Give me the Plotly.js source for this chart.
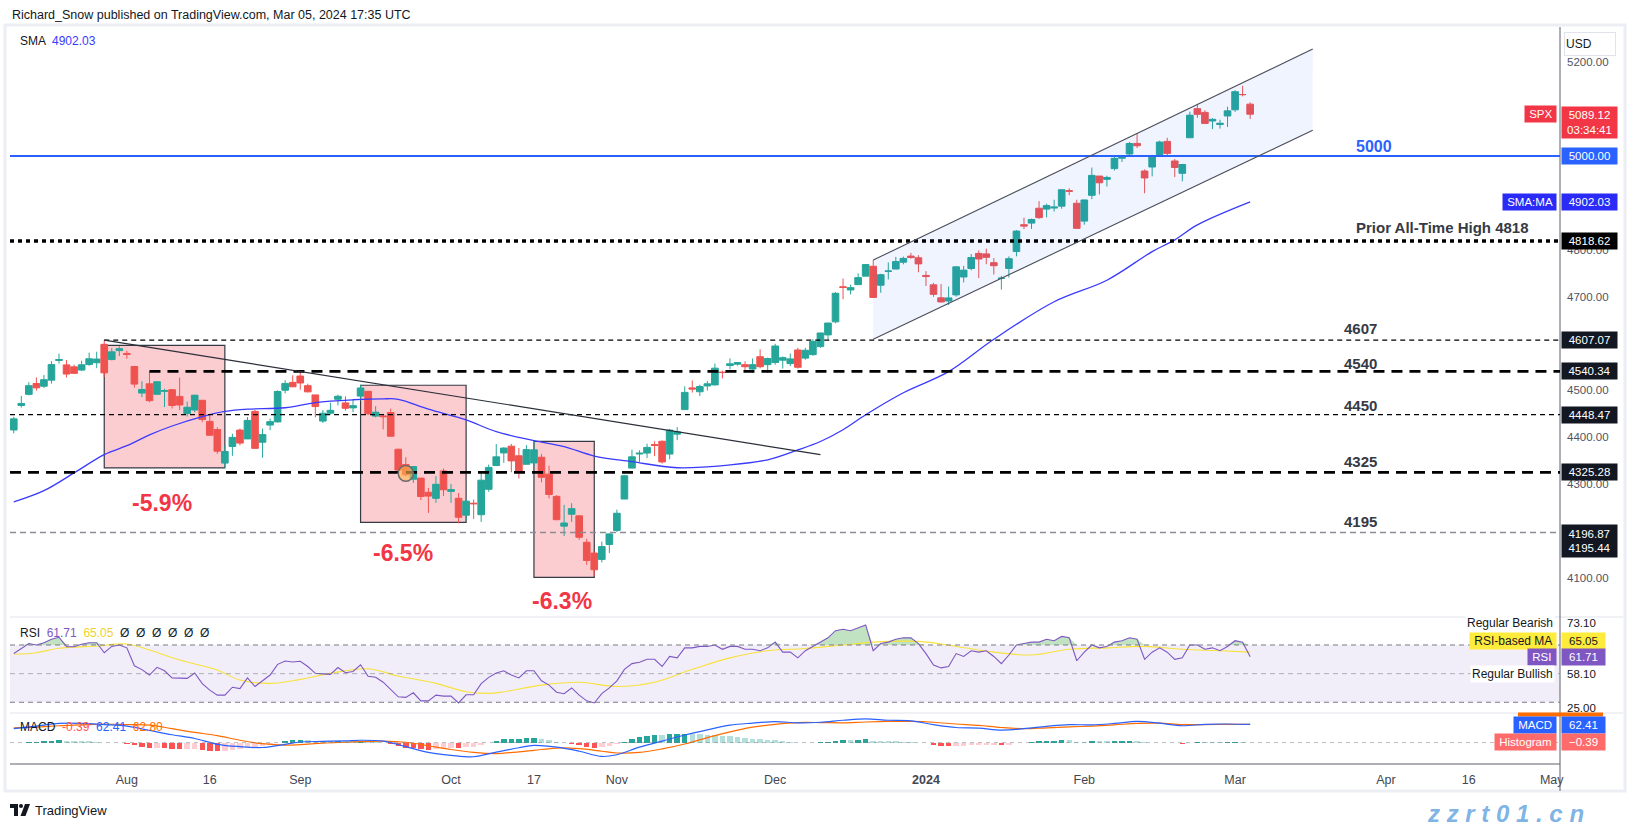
<!DOCTYPE html>
<html><head><meta charset="utf-8">
<script src="https://cdn.plot.ly/plotly-3.0.1.min.js"></script>
<style>html,body{margin:0;padding:0;background:#fff;}#chart{width:1634px;height:827px;}</style>
</head><body><div id="chart"></div>
<script>
// ---------------- DATA ----------------
const dates = [
'2023-07-11','2023-07-12','2023-07-13','2023-07-14','2023-07-17','2023-07-18','2023-07-19','2023-07-20','2023-07-21','2023-07-24','2023-07-25','2023-07-26','2023-07-27','2023-07-28','2023-07-31',
'2023-08-01','2023-08-02','2023-08-03','2023-08-04','2023-08-07','2023-08-08','2023-08-09','2023-08-10','2023-08-11','2023-08-14','2023-08-15','2023-08-16','2023-08-17','2023-08-18','2023-08-21','2023-08-22','2023-08-23','2023-08-24','2023-08-25','2023-08-28','2023-08-29','2023-08-30','2023-08-31',
'2023-09-01','2023-09-05','2023-09-06','2023-09-07','2023-09-08','2023-09-11','2023-09-12','2023-09-13','2023-09-14','2023-09-15','2023-09-18','2023-09-19','2023-09-20','2023-09-21','2023-09-22','2023-09-25','2023-09-26','2023-09-27','2023-09-28','2023-09-29',
'2023-10-02','2023-10-03','2023-10-04','2023-10-05','2023-10-06','2023-10-09','2023-10-10','2023-10-11','2023-10-12','2023-10-13','2023-10-16','2023-10-17','2023-10-18','2023-10-19','2023-10-20','2023-10-23','2023-10-24','2023-10-25','2023-10-26','2023-10-27','2023-10-30','2023-10-31',
'2023-11-01','2023-11-02','2023-11-03','2023-11-06','2023-11-07','2023-11-08','2023-11-09','2023-11-10','2023-11-13','2023-11-14','2023-11-15','2023-11-16','2023-11-17','2023-11-20','2023-11-21','2023-11-22','2023-11-24','2023-11-27','2023-11-28','2023-11-29','2023-11-30',
'2023-12-01','2023-12-04','2023-12-05','2023-12-06','2023-12-07','2023-12-08','2023-12-11','2023-12-12','2023-12-13','2023-12-14','2023-12-15','2023-12-18','2023-12-19','2023-12-20','2023-12-21','2023-12-22','2023-12-26','2023-12-27','2023-12-28','2023-12-29',
'2024-01-02','2024-01-03','2024-01-04','2024-01-05','2024-01-08','2024-01-09','2024-01-10','2024-01-11','2024-01-12','2024-01-16','2024-01-17','2024-01-18','2024-01-19','2024-01-22','2024-01-23','2024-01-24','2024-01-25','2024-01-26','2024-01-29','2024-01-30','2024-01-31',
'2024-02-01','2024-02-02','2024-02-05','2024-02-06','2024-02-07','2024-02-08','2024-02-09','2024-02-12','2024-02-13','2024-02-14','2024-02-15','2024-02-16','2024-02-20','2024-02-21','2024-02-22','2024-02-23','2024-02-26','2024-02-27','2024-02-28','2024-02-29',
'2024-03-01','2024-03-04','2024-03-05'];

const openVals = [
4415.55,4467.69,4491.50,4514.61,4508.86,4521.78,4563.87,4554.38,4550.16,4543.39,4555.19,4558.96,4598.26,4565.75,4584.82,
4578.83,4550.93,4494.27,4513.96,4491.58,4498.03,4501.57,4487.16,4450.69,4458.13,4478.87,4433.79,4416.32,4344.88,4380.28,4415.33,4396.44,4455.16,4389.38,4426.03,4432.75,4500.34,4517.01,
4530.60,4510.06,4490.35,4434.55,4451.30,4480.98,4473.27,4462.65,4487.78,4497.98,4445.13,4445.41,4452.81,4374.36,4341.74,4310.62,4312.88,4282.63,4269.65,4328.18,
4284.52,4269.75,4233.83,4259.31,4234.79,4289.02,4339.75,4366.59,4380.94,4360.49,4342.37,4345.23,4357.35,4321.36,4273.85,4210.40,4235.79,4232.42,4175.99,4152.93,4139.39,4171.33,
4201.27,4268.26,4334.23,4364.27,4366.21,4384.37,4391.41,4364.15,4406.66,4458.97,4505.30,4497.08,4509.55,4511.70,4538.77,4553.04,4555.84,4554.86,4545.55,4571.84,4554.87,
4559.43,4564.37,4557.25,4586.23,4568.84,4576.20,4593.39,4618.30,4646.20,4721.04,4714.23,4725.58,4743.72,4764.73,4724.29,4753.92,4758.86,4773.45,4786.44,4782.88,
4745.20,4725.07,4697.42,4690.57,4703.70,4741.93,4759.94,4792.13,4791.18,4772.35,4739.13,4760.10,4796.28,4853.42,4856.80,4888.56,4886.66,4888.91,4892.95,4925.89,4899.19,
4861.11,4916.06,4957.19,4950.16,4973.05,4995.16,5004.17,5026.83,4967.94,4976.44,5003.14,5031.13,4989.32,4963.03,5038.83,5100.92,5093.00,5074.60,5067.20,5085.36,
5098.51,5130.99,5110.52];

const highVals = [
4443.64,4488.34,4517.38,4527.76,4532.85,4562.30,4578.43,4564.74,4555.00,4563.41,4580.62,4582.47,4607.07,4590.16,4594.22,
4584.62,4550.93,4519.49,4540.34,4519.84,4503.31,4502.44,4527.37,4476.23,4490.33,4478.87,4449.95,4421.17,4381.82,4407.55,4418.59,4443.18,4458.30,4418.46,4439.56,4500.14,4521.65,4532.26,
4541.25,4514.29,4490.35,4457.81,4473.53,4490.77,4487.11,4479.39,4511.99,4497.98,4466.36,4449.85,4461.03,4375.70,4357.40,4338.51,4313.01,4292.07,4317.27,4333.15,
4300.58,4281.15,4268.50,4267.13,4324.10,4341.73,4385.46,4378.64,4385.85,4377.10,4383.33,4393.57,4364.20,4339.54,4276.56,4255.84,4259.38,4232.42,4183.60,4156.70,4177.47,4195.55,
4245.64,4319.72,4373.62,4372.21,4386.26,4391.20,4393.40,4418.03,4421.76,4508.67,4521.17,4511.99,4520.12,4557.11,4542.14,4568.43,4560.31,4562.06,4568.14,4587.64,4569.89,
4599.39,4572.37,4578.56,4590.74,4590.92,4609.23,4623.07,4643.93,4709.69,4738.57,4725.53,4749.52,4768.69,4778.01,4748.71,4772.94,4784.72,4785.39,4793.30,4788.43,
4754.33,4729.29,4726.78,4721.49,4764.54,4765.47,4790.80,4798.50,4802.40,4782.34,4744.23,4785.79,4842.07,4868.41,4866.48,4903.68,4898.15,4906.69,4929.31,4931.09,4906.75,
4906.97,4975.29,4957.19,4957.77,4999.89,5000.40,5030.06,5048.39,4971.30,5002.52,5032.72,5038.70,4993.71,4983.21,5094.39,5111.06,5097.66,5080.69,5077.37,5104.99,
5140.33,5149.67,5114.54];

const lowVals = [
4408.46,4463.23,4489.36,4499.56,4504.90,4514.59,4557.48,4527.56,4535.79,4541.29,4552.42,4547.58,4528.56,4564.01,4573.14,
4567.53,4505.75,4485.54,4474.55,4491.15,4464.39,4461.33,4457.92,4443.98,4453.44,4432.19,4403.55,4364.83,4335.31,4360.30,4382.77,4396.44,4375.55,4356.29,4414.98,4431.68,4493.59,4507.39,
4501.35,4496.01,4442.38,4430.46,4448.38,4467.89,4456.83,4453.52,4478.69,4447.21,4442.11,4416.61,4401.38,4329.17,4316.49,4302.70,4265.98,4238.63,4260.21,4274.86,
4260.21,4216.45,4220.48,4225.91,4219.55,4283.79,4339.64,4345.34,4325.43,4311.97,4342.37,4337.54,4303.84,4269.69,4223.03,4189.22,4219.43,4181.42,4127.90,4103.78,4132.94,4153.12,
4197.74,4268.26,4334.23,4347.53,4355.41,4359.76,4343.94,4353.34,4393.82,4458.97,4495.31,4487.83,4499.66,4510.36,4525.51,4545.05,4552.80,4540.51,4537.26,4547.15,4537.24,
4554.71,4546.72,4551.68,4546.50,4565.22,4574.06,4590.74,4608.09,4643.23,4694.34,4704.69,4725.58,4743.72,4697.82,4708.35,4736.77,4758.45,4768.90,4780.98,4751.99,
4722.67,4699.71,4687.53,4682.11,4699.82,4730.35,4756.20,4739.58,4768.98,4747.12,4714.82,4740.57,4785.87,4844.05,4844.37,4865.94,4869.34,4881.47,4887.40,4916.27,4845.15,
4853.52,4907.99,4918.09,4934.88,4969.05,4987.09,5000.34,5016.83,4920.31,4956.45,4999.44,4999.52,4955.02,4946.00,5038.83,5081.46,5068.91,5057.29,5058.35,5061.89,
5094.16,5127.18,5079.00];

const closeVals = [
4439.26,4472.16,4510.04,4505.42,4522.79,4554.98,4565.72,4534.87,4536.34,4554.64,4567.46,4566.75,4537.41,4582.23,4588.96,
4576.73,4513.39,4501.89,4478.03,4518.44,4499.38,4467.71,4468.83,4464.05,4489.72,4437.86,4404.33,4370.36,4369.71,4399.77,4387.55,4436.01,4376.31,4405.71,4433.31,4497.63,4514.87,4507.66,
4515.77,4496.83,4465.48,4451.14,4457.49,4487.46,4461.90,4467.44,4505.10,4450.32,4453.53,4443.95,4402.20,4330.00,4320.06,4337.44,4273.53,4274.51,4299.70,4288.05,
4288.39,4229.45,4263.75,4258.19,4308.50,4335.66,4358.24,4376.95,4349.61,4327.78,4373.63,4373.20,4314.60,4278.00,4224.16,4217.04,4247.68,4186.77,4137.23,4117.37,4166.82,4193.80,
4237.86,4317.78,4358.34,4365.98,4378.38,4382.78,4347.35,4415.24,4411.55,4495.70,4502.88,4508.24,4514.02,4547.38,4538.19,4556.62,4559.34,4550.43,4554.89,4550.58,4567.80,
4594.63,4569.78,4567.18,4549.34,4585.59,4604.37,4622.44,4643.70,4707.09,4719.55,4719.19,4740.56,4768.37,4698.35,4746.75,4754.63,4774.75,4781.58,4783.35,4769.83,
4742.83,4704.81,4688.68,4697.24,4763.54,4756.50,4783.45,4780.24,4783.83,4765.98,4739.21,4780.94,4839.81,4850.43,4864.60,4868.55,4894.16,4890.97,4927.93,4924.97,4845.65,
4906.19,4958.61,4942.81,4954.23,4995.06,4997.91,5026.61,5021.84,4953.17,5000.62,5029.73,5005.57,4975.51,4981.80,5087.03,5088.80,5069.53,5078.18,5069.76,5096.27,
5137.08,5130.95,5089.12];

// 50-day SMA
const smaDates = ['2023-07-11','2023-07-17','2023-07-21','2023-07-27','2023-08-01','2023-08-04','2023-08-09','2023-08-15','2023-08-18','2023-08-23','2023-08-30','2023-09-06','2023-09-13','2023-09-19','2023-09-21','2023-09-27','2023-10-04','2023-10-10','2023-10-17','2023-10-23','2023-10-27','2023-11-03','2023-11-13','2023-11-22','2023-11-30','2023-12-06','2023-12-11','2023-12-14','2023-12-19','2023-12-27','2024-01-05','2024-01-16','2024-01-26','2024-02-06','2024-02-14','2024-02-20','2024-02-23','2024-03-05'];
const smaVals = [4262,4286,4324,4363,4382,4405,4424,4444,4455,4460,4463,4474,4480,4482,4481,4460,4437,4412,4393,4380,4360,4348,4335,4341,4352,4373,4391,4416,4448,4495,4540,4609,4689,4735,4796,4821,4853,4902.03];

// RSI (daily, aligned with dates)
const rsiVals = [
64,67.5,71,70,71.6,74,75.4,68.8,68.8,70.5,71.6,71.6,64.6,69,70,
68,55.5,52.8,49,54.4,52,47,46.7,46.7,50.4,43,38.5,35,35,40.5,39.5,47,41,45,49,56.5,58.8,58.1,
58.6,55,50.2,49.8,49.5,54.3,50.6,51.5,56.2,48.2,47.5,44,39,33.8,33.4,36.6,31,31,35,34.3,
34.3,29.5,35.2,35.2,43,47.4,50.5,52,49,47,52,52,45,42,37,36,40,35,31,29.5,36,40,
45,53,57,58,60,60,55,62,61,68,68,69,69,70,67,69,69,67,67,66,68,
72,65,65,61,66,69,72,75,80,81,80,82,84,66,71,72,74,75,75,71,
64,56,54,55,64,62,66,65,66,62,57,63,70,71,72,72,74,73,76,75,59,
65,70,68,69,72,73,75,74,60,65,68,65,60,61,70,70,67,68,66,69,
73,72,61.71];

// RSI-based MA (sampled)
const rsiMaDates = ['2023-07-11','2023-07-14','2023-07-19','2023-07-26','2023-08-01','2023-08-04','2023-08-10','2023-08-17','2023-08-22','2023-08-28','2023-09-01','2023-09-08','2023-09-15','2023-09-21','2023-09-28','2023-10-04','2023-10-09','2023-10-11','2023-10-18','2023-10-25','2023-11-01','2023-11-08','2023-11-15','2023-11-22','2023-11-30','2023-12-07','2023-12-14','2023-12-20','2023-12-29','2024-01-08','2024-01-16','2024-01-23','2024-01-30','2024-02-06','2024-02-13','2024-02-21','2024-02-28','2024-03-05'];
const rsiMaVals = [63.5,64.6,67.7,69.3,70.7,66.5,59.5,52.5,45.5,43.2,46,50.2,53.4,48.3,43.2,37.3,36.2,37.3,42,44,41,44,53,61,66,67.5,70,72,72.5,69,65,63,67,68,69,67,66,65.05];

// MACD / signal (sampled)
const macdDates = ['2023-07-11','2023-07-14','2023-07-19','2023-07-24','2023-07-27','2023-08-01','2023-08-04','2023-08-09','2023-08-14','2023-08-17','2023-08-22','2023-08-25','2023-08-30','2023-09-01','2023-09-07','2023-09-12','2023-09-14','2023-09-19','2023-09-22','2023-09-27','2023-10-02','2023-10-05','2023-10-10','2023-10-13','2023-10-17','2023-10-20','2023-10-25','2023-10-30','2023-11-01','2023-11-06','2023-11-09','2023-11-14','2023-11-17','2023-11-22','2023-11-28','2023-12-01','2023-12-06','2023-12-11','2023-12-14','2023-12-19','2023-12-22','2023-12-28','2024-01-03','2024-01-08','2024-01-11','2024-01-17','2024-01-22','2024-01-25','2024-01-30','2024-02-02','2024-02-07','2024-02-12','2024-02-15','2024-02-21','2024-02-26','2024-02-29','2024-03-05'];
const macdVals = [48,57,66,66,62,57,42,27,14,-6,-14,-17,-6,2,4,6,8,5,-14,-34,-44,-49,-33,-18,-10,-16,-30,-48,-42,-16,5,26,44,60,67,72,68,70,77,82,77,75,62,52,50,43,48,56,62,61,66,73,67,58,63,64,62.41];
const signalVals = [51,53,58,61,64,62,60,48,35,24,8,-4,-9,-7,-2,1,3,5,1,-11,-24,-34,-38,-32,-27,-19,-21,-30,-36,-34,-22,-5,17,37,53,63,69,69,68,71,73,73,70,64,59,52,48,51,54,57,61,66,67,62,62,63,62.80];

// MACD histogram (daily, aligned with dates)
const histVals = [
-3,-2,1,3,5,7,8,7,6,5,4,2,-2,-2,-3,
-5,-10,-14,-18,-18,-19,-21,-22,-22,-21,-24,-28,-30,-28,-24,-22,-17,-16,-13,-8,-2,4,8,
9,8,6,5,5,6,5,5,6,3,1,-1,-6,-13,-18,-19,-22,-24,-22,-21,
-19,-20,-17,-15,-8,-1,6,11,13,14,16,17,13,8,2,-3,-5,-9,-14,-18,-17,-13,
-6,3,12,18,22,25,25,28,30,31,30,28,27,27,24,22,20,17,14,11,9,
9,5,2,-1,-2,-1,1,3,7,9,9,10,11,6,5,4,4,3,2,0,
-3,-7,-11,-13,-12,-12,-10,-9,-8,-8,-9,-7,-3,0,2,4,5,6,8,8,3,
2,4,4,4,5,6,7,7,2,0,0,-1,-3,-4,-1,1,1,1,0.5,1,
2,2,-0.39];

const holidays = ['2023-09-04','2023-11-23','2023-12-25','2024-01-01','2024-01-15','2024-02-19','2024-03-29'];
const tickDates = ['2023-08-01','2023-08-16','2023-09-01','2023-10-02','2023-10-17','2023-11-01','2023-12-01','2024-01-02','2024-02-01','2024-03-01','2024-04-01','2024-04-16','2024-05-01'];
const tickLabels = ['Aug','16','Sep','Oct','17','Nov','Dec','<b>2024</b>','Feb','Mar','Apr','16','May'];
// price-scale labels left visible (the others sit under the level tags)
const priceTicks = [4100,4300,4400,4500,4700,4800,5200];

// Levels & drawings
const lvl5000 = 5000.00, lvlATH = 4818.62, lvl4607 = 4607.07, lvl4540 = 4540.34, lvl4448 = 4448.47, lvl4325 = 4325.28, lvl4196 = 4196.87, lvl4195 = 4195.44;
const lastPrice = 5089.12, smaLast = 4902.03, rsiLast = 61.71, rsiMaLast = 65.05, macdLast = 62.41, signalLast = 62.80, histLast = -0.39;
const boxes = [
  {x0:'2023-07-27', x1:'2023-08-18', y0:4334.5, y1:4596, label:'-5.9%', lx:'2023-08-07 17:00', ly:4260},
  {x0:'2023-09-14', x1:'2023-10-04', y0:4218.6, y1:4511, label:'-6.5%', lx:'2023-09-21 14:00', ly:4153},
  {x0:'2023-10-17', x1:'2023-10-27', y0:4101.3, y1:4391.4, label:'-6.3%', lx:'2023-10-20 17:00', ly:4051}
];
const trendLine = {x0:'2023-07-27', y0:4607.07, x1:'2023-12-11', y1:4363};
const channel = {x0:'2023-12-20', x1:'2024-03-15 07:12', up0:4778, up1:5228, lo0:4609, lo1:5055};
const xRange = ['2023-07-10 12:00','2024-05-02 02:24'];

// ---------------- LAYOUT HELPERS ----------------
const W = 1634, H = 827, ML = 10, MR = 74, MT = 28, MB = 63;
const PW = W - ML - MR, PH = H - MT - MB;
const px = X => (X - ML) / PW;
const py = Y => (H - MB - Y) / PH;
const dMain = [py(617), 1], dRsi = [py(713), py(617)], dMacd = [0, py(713)];
const FONT = 'Liberation Sans, Arial, sans-serif';

// ---------------- TRACES ----------------
const traces = [];
traces.push({type:'scatter', mode:'lines', x:[channel.x0, channel.x1, channel.x1, channel.x0], y:[channel.up0, channel.up1, channel.lo1, channel.lo0],
  fill:'toself', fillcolor:'rgba(41,98,255,0.07)', line:{width:0}, hoverinfo:'skip', showlegend:false, xaxis:'x', yaxis:'y'});
traces.push({type:'candlestick', x:dates, open:openVals, high:highVals, low:lowVals, close:closeVals, xaxis:'x', yaxis:'y',
  increasing:{line:{color:'#26a69a', width:1}, fillcolor:'#26a69a'},
  decreasing:{line:{color:'#ef5350', width:1}, fillcolor:'#ef5350'},
  whiskerwidth:0, hoverinfo:'skip', showlegend:false});
traces.push({type:'scatter', mode:'lines', x:smaDates, y:smaVals, line:{color:'#3a3aff', width:1.3, shape:'spline'}, hoverinfo:'skip', showlegend:false, xaxis:'x', yaxis:'y'});

// RSI overbought / oversold fills
traces.push({type:'scatter', mode:'lines', x:dates, y:dates.map(()=>70), line:{width:0}, hoverinfo:'skip', showlegend:false, xaxis:'x', yaxis:'y2'});
traces.push({type:'scatter', mode:'lines', x:dates, y:rsiVals.map(v=>Math.max(v,70)), line:{width:0}, fill:'tonexty', fillcolor:'rgba(76,175,80,0.35)', hoverinfo:'skip', showlegend:false, xaxis:'x', yaxis:'y2'});
traces.push({type:'scatter', mode:'lines', x:dates, y:dates.map(()=>30), line:{width:0}, hoverinfo:'skip', showlegend:false, xaxis:'x', yaxis:'y2'});
traces.push({type:'scatter', mode:'lines', x:dates, y:rsiVals.map(v=>Math.min(v,30)), line:{width:0}, fill:'tonexty', fillcolor:'rgba(242,54,69,0.3)', hoverinfo:'skip', showlegend:false, xaxis:'x', yaxis:'y2'});
traces.push({type:'scatter', mode:'lines', x:rsiMaDates, y:rsiMaVals, line:{color:'#f7e23b', width:1.1, shape:'spline'}, hoverinfo:'skip', showlegend:false, xaxis:'x', yaxis:'y2'});
traces.push({type:'scatter', mode:'lines', x:dates, y:rsiVals, line:{color:'#7e57c2', width:1.1}, hoverinfo:'skip', showlegend:false, xaxis:'x', yaxis:'y2'});

// MACD
const histColors = histVals.map((v,i)=>{const p = i>0 ? histVals[i-1] : v; return v>=0 ? (v>p?'#26a69a':'#b2dfdb') : (v<p?'#ff5252':'#ffcdd2');});
traces.push({type:'bar', x:dates, y:histVals, marker:{color:histColors, line:{width:0}}, width:0.72*86400000, hoverinfo:'skip', showlegend:false, xaxis:'x', yaxis:'y3'});
traces.push({type:'scatter', mode:'lines', x:macdDates, y:signalVals, line:{color:'#ff6d00', width:1.2, shape:'spline'}, hoverinfo:'skip', showlegend:false, xaxis:'x', yaxis:'y3'});
traces.push({type:'scatter', mode:'lines', x:macdDates, y:macdVals, line:{color:'#2962ff', width:1.2, shape:'spline'}, hoverinfo:'skip', showlegend:false, xaxis:'x', yaxis:'y3'});

// ---------------- SHAPES ----------------
const shapes = [];
shapes.push({type:'rect', xref:'paper', yref:'paper', x0:px(5), x1:px(1625), y0:py(791), y1:py(25), line:{color:'#eceef3', width:3}, fillcolor:'rgba(0,0,0,0)'});
[617, 713].forEach(Y=>shapes.push({type:'line', xref:'paper', yref:'paper', x0:px(10), x1:px(1623), y0:py(Y), y1:py(Y), line:{color:'#e0e3eb', width:1}}));
shapes.push({type:'line', xref:'paper', yref:'paper', x0:1, x1:1, y0:py(791), y1:py(27), line:{color:'#5d606b', width:1}});
shapes.push({type:'line', xref:'paper', yref:'paper', x0:0, x1:1, y0:0, y1:0, line:{color:'#5d606b', width:1}});
shapes.push({type:'rect', xref:'paper', yref:'y2', x0:0, x1:1, y0:30, y1:70, fillcolor:'rgba(126,87,194,0.1)', line:{width:0}, layer:'below'});
shapes.push({type:'line', xref:'paper', yref:'y2', x0:0, x1:1, y0:70, y1:70, line:{color:'#787b86', width:1, dash:'5px,4px'}});
shapes.push({type:'line', xref:'paper', yref:'y2', x0:0, x1:1, y0:50, y1:50, line:{color:'rgba(120,123,134,0.55)', width:1, dash:'5px,4px'}});
shapes.push({type:'line', xref:'paper', yref:'y2', x0:0, x1:1, y0:30, y1:30, line:{color:'#787b86', width:1, dash:'5px,4px'}});
shapes.push({type:'line', xref:'paper', yref:'y3', x0:0, x1:1, y0:0, y1:0, line:{color:'rgba(120,123,134,0.5)', width:1, dash:'4px,4px'}});
boxes.forEach(b=>shapes.push({type:'rect', xref:'x', yref:'y', x0:b.x0, x1:b.x1, y0:b.y0, y1:b.y1, fillcolor:'rgba(242,54,69,0.25)', line:{color:'#363a45', width:1.2}, layer:'below'}));
shapes.push({type:'line', xref:'paper', yref:'y', x0:0, x1:1, y0:lvl5000, y1:lvl5000, line:{color:'#2962ff', width:2}});
shapes.push({type:'line', xref:'paper', yref:'y', x0:0, x1:1, y0:lvlATH, y1:lvlATH, line:{color:'#000000', width:3.5, dash:'4px,4px'}});
shapes.push({type:'line', xref:'x', yref:'y', x0:'2023-07-27', x1:xRange[1], y0:lvl4607, y1:lvl4607, line:{color:'#000000', width:1.2, dash:'5px,4px'}});
shapes.push({type:'line', xref:'x', yref:'y', x0:'2023-08-04', x1:xRange[1], y0:lvl4540, y1:lvl4540, line:{color:'#000000', width:2.8, dash:'11px,7px'}});
shapes.push({type:'line', xref:'paper', yref:'y', x0:0, x1:1, y0:lvl4448, y1:lvl4448, line:{color:'#000000', width:1.2, dash:'5px,4px'}});
shapes.push({type:'line', xref:'paper', yref:'y', x0:0, x1:1, y0:lvl4325, y1:lvl4325, line:{color:'#000000', width:2.8, dash:'11px,7px'}});
shapes.push({type:'line', xref:'paper', yref:'y', x0:0, x1:1, y0:lvl4196, y1:lvl4196, line:{color:'#8a8d96', width:1.6, dash:'6px,4px'}});
shapes.push({type:'line', xref:'x', yref:'y', x0:trendLine.x0, x1:trendLine.x1, y0:trendLine.y0, y1:trendLine.y1, line:{color:'#2a2e39', width:1.2}});
shapes.push({type:'line', xref:'x', yref:'y', x0:channel.x0, x1:channel.x1, y0:channel.up0, y1:channel.up1, line:{color:'#4a4e59', width:1.1}});
shapes.push({type:'line', xref:'x', yref:'y', x0:channel.x0, x1:channel.x1, y0:channel.lo0, y1:channel.lo1, line:{color:'#4a4e59', width:1.1}});
shapes.push({type:'circle', xref:'x', yref:'y', x0:'2023-09-21', x1:'2023-09-25', y0:4306, y1:4340, fillcolor:'rgba(255,183,77,0.6)', line:{color:'#6b6b6b', width:1.5}});
shapes.push({type:'path', xref:'paper', yref:'paper', path:`M${px(10)},${py(804)} L${px(18)},${py(804)} L${px(18)},${py(816)} L${px(14)},${py(816)} L${px(14)},${py(808)} L${px(10)},${py(808)} Z`, fillcolor:'#131722', line:{width:0}});
shapes.push({type:'circle', xref:'paper', yref:'paper', x0:px(19), x1:px(23), y0:py(808), y1:py(804), fillcolor:'#131722', line:{width:0}});
shapes.push({type:'path', xref:'paper', yref:'paper', path:`M${px(25)},${py(804)} L${px(30)},${py(804)} L${px(25.5)},${py(816)} L${px(20.5)},${py(816)} Z`, fillcolor:'#131722', line:{width:0}});

// ---------------- ANNOTATIONS ----------------
const ann = [];
const txt = (o) => ann.push(Object.assign({showarrow:false, xanchor:'left', yanchor:'middle', font:{family:FONT, size:12, color:'#131722'}}, o));
txt({xref:'paper', yref:'paper', x:px(10), y:py(15), text:'Richard_Snow published on TradingView.com, Mar 05, 2024 17:35 UTC', font:{family:FONT, size:12.5, color:'#131722'}});
txt({xref:'paper', yref:'paper', x:px(33), y:py(810), text:'TradingView', font:{family:FONT, size:13, color:'#131722'}});
txt({xref:'paper', yref:'paper', x:px(18), y:py(41), text:`SMA  <span style="color:#3a3aff">${smaLast.toFixed(2)}</span>`, font:{family:FONT, size:12, color:'#131722'}});
txt({xref:'paper', yref:'paper', x:px(18), y:py(633), text:`RSI  <span style="color:#7e57c2">${rsiLast.toFixed(2)}</span>  <span style="color:#f2d22b">${rsiMaLast.toFixed(2)}</span>  Ø  Ø  Ø  Ø  Ø  Ø`, font:{family:FONT, size:12, color:'#131722'}});
txt({xref:'paper', yref:'paper', x:px(18), y:py(727), text:`MACD  <span style="color:#ff5252">${histLast.toFixed(2)}</span>  <span style="color:#2962ff">${macdLast.toFixed(2)}</span>  <span style="color:#ff6d00">${signalLast.toFixed(2)}</span>`, font:{family:FONT, size:12, color:'#131722'}});

const lvlFont = (c, s) => ({family:FONT, size:s, color:c, weight:600});
txt({xref:'paper', yref:'y', x:px(1354), y:5021, text:'5000', font:lvlFont('#2962ff',16)});
txt({xref:'paper', yref:'y', x:px(1354), y:4848.5, text:'Prior All-Time High 4818', font:lvlFont('#363a45',15)});
txt({xref:'paper', yref:'y', x:px(1342), y:4633, text:'4607', font:lvlFont('#363a45',15)});
txt({xref:'paper', yref:'y', x:px(1342), y:4558, text:'4540', font:lvlFont('#363a45',15)});
txt({xref:'paper', yref:'y', x:px(1342), y:4467, text:'4450', font:lvlFont('#363a45',15)});
txt({xref:'paper', yref:'y', x:px(1342), y:4349, text:'4325', font:lvlFont('#363a45',15)});
txt({xref:'paper', yref:'y', x:px(1342), y:4221, text:'4195', font:lvlFont('#363a45',15)});
boxes.forEach(b=>txt({xref:'x', yref:'y', x:b.lx, y:b.ly, xanchor:'center', text:`<b>${b.label}</b>`, font:{family:FONT, size:23, color:'#f23645'}}));

const axBox = (o) => ann.push(Object.assign({showarrow:false, xref:'paper', xanchor:'left', yanchor:'middle', x:px(1561), align:'center', width:53, height:14, borderpad:1, font:{family:FONT, size:11.5, color:'#ffffff'}}, o));
const nameBox = (o) => ann.push(Object.assign({showarrow:false, xref:'paper', xanchor:'right', yanchor:'middle', x:px(1557), borderpad:1, font:{family:FONT, size:11.5, color:'#ffffff'}}, o));
txt({xref:'paper', yref:'paper', x:px(1564), y:py(44.5), text:'USD', width:48, height:20, align:'left', bordercolor:'#e0e3eb', borderwidth:1, bgcolor:'#ffffff', borderpad:1, font:{family:FONT, size:12, color:'#131722'}});
nameBox({yref:'y', y:lastPrice, text:' SPX ', height:14, bgcolor:'#f23645'});
axBox({yref:'y', y:lastPrice, yanchor:'top', yshift:8, height:29, text:`${lastPrice.toFixed(2)}<br>03:34:41`, bgcolor:'#f23645'});
axBox({yref:'y', y:lvl5000, text:lvl5000.toFixed(2), bgcolor:'#2962ff'});
nameBox({yref:'y', y:smaLast, text:' SMA:MA ', height:14, bgcolor:'#2b2bf8'});
axBox({yref:'y', y:smaLast, text:smaLast.toFixed(2), bgcolor:'#2b2bf8'});
axBox({yref:'y', y:lvlATH, text:lvlATH.toFixed(2), bgcolor:'#000000'});
[lvl4607, lvl4540, lvl4448, lvl4325].forEach(v=>axBox({yref:'y', y:v, text:v.toFixed(2), bgcolor:'#131722'}));
axBox({yref:'y', y:lvl4196, yanchor:'top', yshift:8, height:30, text:`${lvl4196.toFixed(2)}<br>${lvl4195.toFixed(2)}`, bgcolor:'#131722'});

const smallBox = (o) => ann.push(Object.assign({showarrow:false, xref:'paper', yref:'paper', xanchor:'left', yanchor:'middle', x:px(1561), align:'center', width:41, height:14, borderpad:1, font:{family:FONT, size:11.5, color:'#ffffff'}}, o));
nameBox({yref:'paper', y:py(622.7), x:px(1555), text:'Regular Bearish', bgcolor:'#ffffff', font:{family:FONT, size:12, color:'#131722'}});
txt({xref:'paper', yref:'paper', x:px(1565), y:py(622.7), text:'73.10', font:{family:FONT, size:11.5, color:'#131722'}});
nameBox({yref:'paper', y:py(641), text:' RSI-based MA ', height:14, bgcolor:'#ffeb3b', font:{family:FONT, size:12, color:'#131722'}});
smallBox({y:py(641), text:rsiMaLast.toFixed(2), bgcolor:'#ffeb3b', font:{family:FONT, size:11.5, color:'#131722'}});
nameBox({yref:'paper', y:py(657), text:' RSI ', height:14, bgcolor:'#7e57c2'});
smallBox({y:py(657), text:rsiLast.toFixed(2), bgcolor:'#7e57c2'});
nameBox({yref:'paper', y:py(674), x:px(1555), text:'Regular Bullish', bgcolor:'#ffffff', font:{family:FONT, size:12, color:'#131722'}});
txt({xref:'paper', yref:'paper', x:px(1565), y:py(674), text:'58.10', font:{family:FONT, size:11.5, color:'#131722'}});
txt({xref:'paper', yref:'paper', x:px(1565), y:py(707.7), text:'25.00', font:{family:FONT, size:11.5, color:'#131722'}});

// MACD pane labels (signal tags sit behind the MACD tags, only their top edge shows)
shapes.push({type:'rect', xref:'paper', yref:'paper', x0:px(1518), x1:px(1603), y0:py(716.5), y1:py(712.5), fillcolor:'#ff6d00', line:{width:0}});
nameBox({yref:'paper', y:py(724.5), text:' MACD ', height:14, bgcolor:'#2962ff'});
smallBox({y:py(724.5), text:macdLast.toFixed(2), bgcolor:'#2962ff'});
nameBox({yref:'paper', y:py(742), text:' Histogram ', height:14, bgcolor:'#ff6b6b'});
smallBox({y:py(742), text:'\u2212' + Math.abs(histLast).toFixed(2), bgcolor:'#ff6b6b'});

txt({xref:'paper', yref:'paper', x:px(1505), y:py(814), xanchor:'center', text:'<b><i>z z r t 0 1 . c n</i></b>', font:{family:FONT, size:24, color:'rgba(110,170,225,0.9)'}});

const layout = {
  width:W, height:H, autosize:false,
  margin:{l:ML, r:MR, t:MT, b:MB, pad:0},
  paper_bgcolor:'#ffffff', plot_bgcolor:'#ffffff',
  showlegend:false, dragmode:false, hovermode:false,
  bargap:0, boxgap:0.12, boxgroupgap:0,
  xaxis:{type:'date', domain:[0,1], anchor:'y3', range:xRange, rangeslider:{visible:false},
    rangebreaks:[{bounds:['sat','mon']},{values:holidays}],
    tickmode:'array', tickvals:tickDates, ticktext:tickLabels, ticks:'', ticklabelstandoff:6,
    tickfont:{family:FONT, size:12.5, color:'#434651'}, showgrid:false, zeroline:false, showline:false, fixedrange:true},
  yaxis:{domain:dMain, anchor:'x', range:[4016.6, 5273], side:'right', tickmode:'array', tickvals:priceTicks, ticktext:priceTicks.map(v=>v.toFixed(2)),
    ticks:'', ticklabelstandoff:6, tickfont:{family:FONT, size:11.5, color:'#50535e'}, showgrid:false, zeroline:false, showline:false, fixedrange:true},
  yaxis2:{domain:dRsi, anchor:'x', range:[22.5, 89.55], showticklabels:false, showgrid:false, zeroline:false, showline:false, fixedrange:true},
  yaxis3:{domain:dMacd, anchor:'x', range:[-74, 102], showticklabels:false, showgrid:false, zeroline:false, showline:false, fixedrange:true},
  shapes:shapes, annotations:ann
};
Plotly.newPlot('chart', traces, layout, {staticPlot:true, displayModeBar:false});
</script></body></html>
